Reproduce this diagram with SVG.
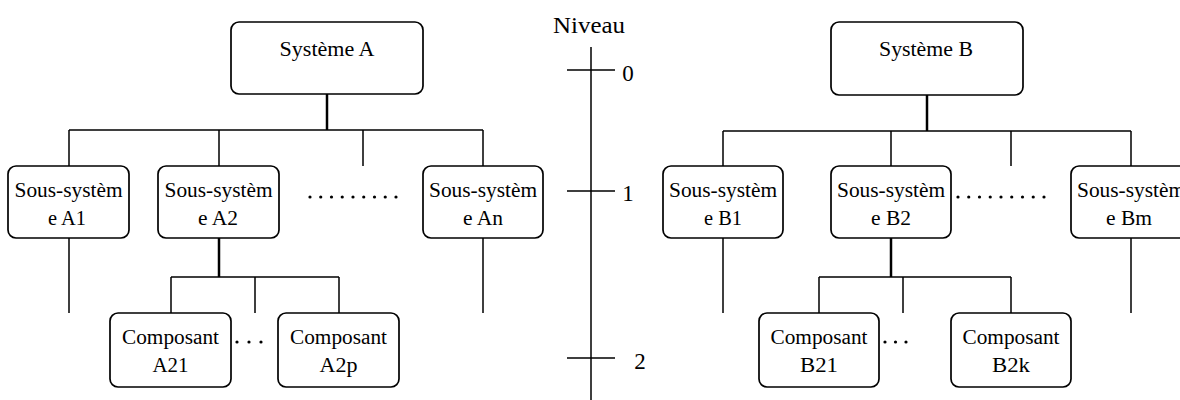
<svg xmlns="http://www.w3.org/2000/svg" width="1180" height="400" viewBox="0 0 1180 400">
<style>
.box{fill:#fff;stroke:#000;stroke-width:1.7}
.t{font-family:"Liberation Serif","Times New Roman",serif;font-size:20px;fill:#000;text-anchor:middle}
.lv{font-family:"Liberation Serif","Times New Roman",serif;font-size:23px;fill:#000;text-anchor:middle}
.ln{fill:none;stroke:#000;stroke-width:1.5}
.th{fill:none;stroke:#000;stroke-width:2.5}
.dot{fill:#000}
</style>
<rect width="1180" height="400" fill="#fff"/>
<g id="connectors">
<path class="th" d="M327,94V130"/>
<path class="ln" d="M69,130H483M69,130V166M219,130V166M363,130V166M483,130V166"/>
<path class="ln" d="M69,238V313M483,238V313"/>
<path class="th" d="M219,238V277"/>
<path class="ln" d="M171,277H339M171,277V313M255,277V313M339,277V313"/>
<path class="th" d="M927,95V131"/>
<path class="ln" d="M723,131H1131M723,131V166M891,131V166M1011,131V166M1131,131V166"/>
<path class="ln" d="M723,238V313M1131,238V313"/>
<path class="th" d="M891,238V277"/>
<path class="ln" d="M819,277H1011M819,277V313M903,277V313M1011,277V313"/>
</g>
<g id="axis">
<path class="ln" d="M591,47V400M567,70H615M567,191H615M567,358H615"/>
<text class="lv" x="589" y="33" textLength="72" lengthAdjust="spacingAndGlyphs">Niveau</text>
<text class="lv" x="628" y="81">0</text>
<text class="lv" x="628" y="201">1</text>
<text class="lv" x="640" y="369">2</text>
</g>
<g id="sysA">
<rect class="box" x="231" y="22" width="192" height="72" rx="8"/>
<text class="t" x="327" y="56" textLength="95" lengthAdjust="spacingAndGlyphs">Système A</text>
</g>
<g id="sysB">
<rect class="box" x="831" y="22" width="192" height="73" rx="8"/>
<text class="t" x="926" y="56" textLength="94" lengthAdjust="spacingAndGlyphs">Système B</text>
</g>
<g id="A1">
<rect class="box" x="8" y="166" width="121" height="72" rx="8"/>
<text class="t" x="68.5" y="197" textLength="108" lengthAdjust="spacingAndGlyphs">Sous-systèm</text>
<text class="t" x="67" y="225" textLength="38" lengthAdjust="spacingAndGlyphs">e A1</text>
</g>
<g id="A2">
<rect class="box" x="158" y="166" width="121" height="72" rx="8"/>
<text class="t" x="218.5" y="197" textLength="108" lengthAdjust="spacingAndGlyphs">Sous-systèm</text>
<text class="t" x="218" y="225" textLength="40" lengthAdjust="spacingAndGlyphs">e A2</text>
</g>
<g id="An">
<rect class="box" x="423" y="166" width="120" height="72" rx="8"/>
<text class="t" x="483" y="197" textLength="108" lengthAdjust="spacingAndGlyphs">Sous-systèm</text>
<text class="t" x="483" y="225" textLength="40" lengthAdjust="spacingAndGlyphs">e An</text>
</g>
<g id="dotsA1">
<circle class="dot" cx="310" cy="197" r="1.6"/><circle class="dot" cx="320.75" cy="197" r="1.6"/><circle class="dot" cx="331.5" cy="197" r="1.6"/><circle class="dot" cx="342.25" cy="197" r="1.6"/><circle class="dot" cx="353" cy="197" r="1.6"/><circle class="dot" cx="363.75" cy="197" r="1.6"/><circle class="dot" cx="374.5" cy="197" r="1.6"/><circle class="dot" cx="385.25" cy="197" r="1.6"/><circle class="dot" cx="396" cy="197" r="1.6"/>
</g>
<g id="A21">
<rect class="box" x="110" y="313" width="121" height="74" rx="8"/>
<text class="t" x="170.5" y="344" textLength="97" lengthAdjust="spacingAndGlyphs">Composant</text>
<text class="t" x="170.5" y="372" textLength="36" lengthAdjust="spacingAndGlyphs">A21</text>
</g>
<g id="A2p">
<rect class="box" x="278" y="313" width="121" height="74" rx="8"/>
<text class="t" x="338.5" y="344" textLength="97" lengthAdjust="spacingAndGlyphs">Composant</text>
<text class="t" x="338.5" y="372" textLength="38" lengthAdjust="spacingAndGlyphs">A2p</text>
</g>
<g id="dotsA2">
<circle class="dot" cx="237" cy="342" r="1.6"/><circle class="dot" cx="249" cy="342" r="1.6"/><circle class="dot" cx="261" cy="342" r="1.6"/>
</g>
<g id="B1">
<rect class="box" x="663" y="166" width="120" height="72" rx="8"/>
<text class="t" x="723" y="197" textLength="108" lengthAdjust="spacingAndGlyphs">Sous-systèm</text>
<text class="t" x="723" y="225" textLength="38" lengthAdjust="spacingAndGlyphs">e B1</text>
</g>
<g id="B2">
<rect class="box" x="831" y="166" width="120" height="72" rx="8"/>
<text class="t" x="891" y="197" textLength="108" lengthAdjust="spacingAndGlyphs">Sous-systèm</text>
<text class="t" x="891" y="225" textLength="40" lengthAdjust="spacingAndGlyphs">e B2</text>
</g>
<g id="Bm">
<rect class="box" x="1071" y="166" width="120" height="72" rx="8"/>
<text class="t" x="1131" y="197" textLength="108" lengthAdjust="spacingAndGlyphs">Sous-systèm</text>
<text class="t" x="1129" y="225" textLength="46" lengthAdjust="spacingAndGlyphs">e Bm</text>
</g>
<g id="dotsB1">
<circle class="dot" cx="958" cy="197" r="1.6"/><circle class="dot" cx="968.75" cy="197" r="1.6"/><circle class="dot" cx="979.5" cy="197" r="1.6"/><circle class="dot" cx="990.25" cy="197" r="1.6"/><circle class="dot" cx="1001" cy="197" r="1.6"/><circle class="dot" cx="1011.75" cy="197" r="1.6"/><circle class="dot" cx="1022.5" cy="197" r="1.6"/><circle class="dot" cx="1033.25" cy="197" r="1.6"/><circle class="dot" cx="1044" cy="197" r="1.6"/>
</g>
<g id="B21">
<rect class="box" x="759" y="313" width="120" height="74" rx="8"/>
<text class="t" x="819" y="344" textLength="97" lengthAdjust="spacingAndGlyphs">Composant</text>
<text class="t" x="819" y="372" textLength="38" lengthAdjust="spacingAndGlyphs">B21</text>
</g>
<g id="B2k">
<rect class="box" x="951" y="313" width="120" height="74" rx="8"/>
<text class="t" x="1011" y="344" textLength="97" lengthAdjust="spacingAndGlyphs">Composant</text>
<text class="t" x="1011" y="372" textLength="38" lengthAdjust="spacingAndGlyphs">B2k</text>
</g>
<g id="dotsB2">
<circle class="dot" cx="885" cy="342" r="1.6"/><circle class="dot" cx="895.5" cy="342" r="1.6"/><circle class="dot" cx="906" cy="342" r="1.6"/>
</g>
</svg>
